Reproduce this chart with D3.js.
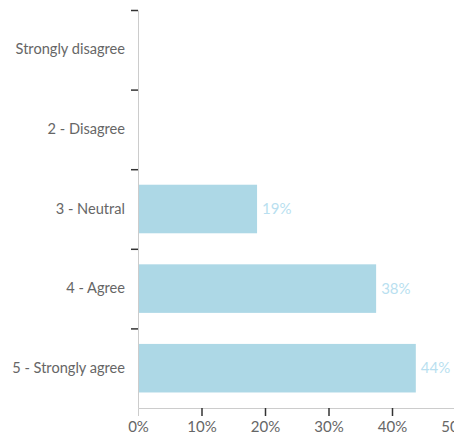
<!DOCTYPE html>
<html>
<head>
<meta charset="utf-8">
<script src="https://cdn.jsdelivr.net/npm/d3@7/dist/d3.min.js"></script>
<style>
  html, body { margin: 0; padding: 0; background: #fff; }
  svg { display: block; overflow: hidden; }
  text { font-family: Lato, "Open Sans", sans-serif; }
</style>
</head>
<body>
<svg id="chart" width="454" height="437"></svg>
<script>
// Survey responses (share of respondents, %)
const categories = ["Strongly disagree", "2 - Disagree", "3 - Neutral", "4 - Agree", "5 - Strongly agree"];
const shares = [0, 0, 18.75, 37.5, 43.75];
const xTicks = [0, 10, 20, 30, 40, 50];

const margin = { top: 10, left: 138, bottom: 29 };
const width = 454, height = 437;
const plotH = height - margin.top - margin.bottom;

const svg = d3.select("#chart");
const g = svg.append("g").attr("transform", `translate(${margin.left},${margin.top})`);

const x = d3.scaleLinear().domain([0, 50]).range([0, 317.5]);
const y = d3.scaleBand().domain(categories).range([0, plotH]).paddingInner(0.39).paddingOuter(0.195);

// Bars
g.selectAll("rect.bar")
  .data(categories.map((c, i) => ({ c, v: shares[i] })))
  .join("rect")
  .attr("class", "bar")
  .attr("x", 0)
  .attr("y", d => y(d.c))
  .attr("width", d => x(d.v))
  .attr("height", y.bandwidth())
  .attr("fill", "#add8e6");

// Value labels
g.selectAll("text.val")
  .data(categories.map((c, i) => ({ c, v: shares[i] })).filter(d => d.v > 0))
  .join("text")
  .attr("class", "val")
  .attr("x", d => x(d.v) + 5)
  .attr("y", d => y(d.c) + y.bandwidth() / 2)
  .attr("dy", "0.35em")
  .attr("fill", "#b9dff0")
  .attr("font-size", 15)
  .text(d => Math.round(d.v) + "%");

// Y axis: labels at band centres, tick marks at band boundaries
const yAxis = g.append("g").call(d3.axisLeft(y).tickSize(0).tickPadding(13));
yAxis.select(".domain").attr("stroke", "#ccc");
yAxis.selectAll("text").attr("fill", "#666").attr("font-size", 14.6);
const step = y.step();
g.append("g").selectAll("line")
  .data(categories)
  .join("line")
  .attr("x1", -7).attr("x2", 0)
  .attr("y1", d => y(d) - y.paddingOuter() * step + 0.5)
  .attr("y2", d => y(d) - y.paddingOuter() * step + 0.5)
  .attr("stroke", "#333").attr("stroke-width", 1.5);

// X axis
const xAxis = g.append("g").attr("transform", `translate(0,${plotH})`)
  .call(d3.axisBottom(x).tickValues(xTicks).tickFormat(d => d + "%").tickSize(8).tickPadding(5));
xAxis.select(".domain").attr("stroke", "#ccc");
xAxis.selectAll(".tick line").attr("stroke", "#333").attr("stroke-width", 1.5)
  .attr("opacity", d => d === 0 ? 0 : 1);
xAxis.selectAll("text").attr("fill", "#666").attr("font-size", 15);
</script>
</body>
</html>
